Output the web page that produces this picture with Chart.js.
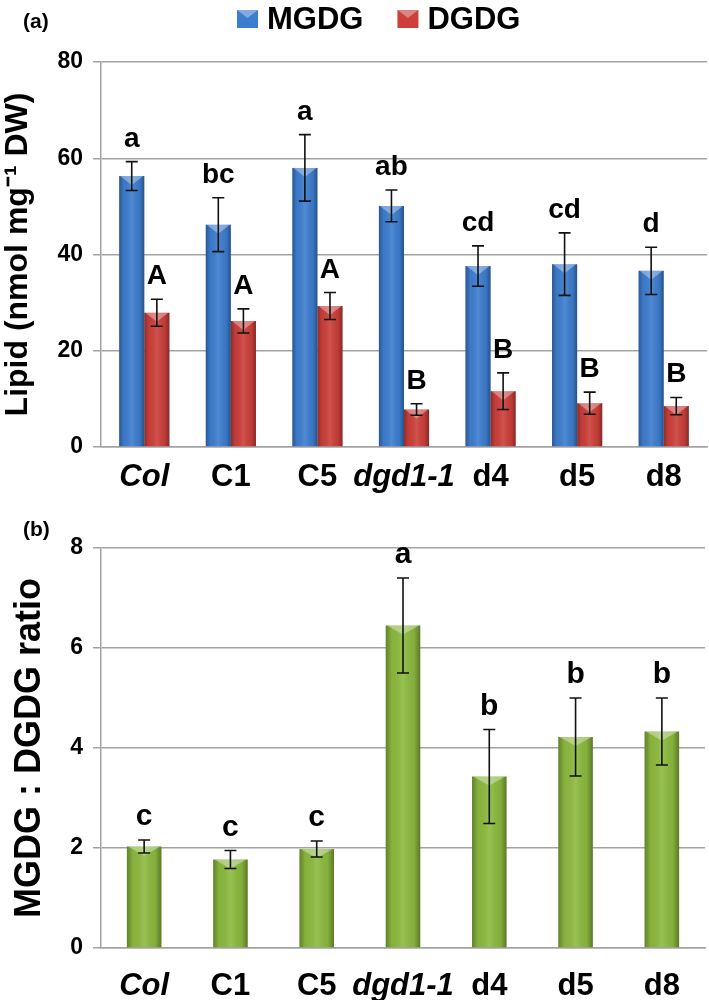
<!DOCTYPE html>
<html>
<head>
<meta charset="utf-8">
<script src="https://cdn.jsdelivr.net/npm/chart.js@4.4.0/dist/chart.umd.min.js"></script>
<style>
body { margin: 0; background: #fff; }
canvas { display: block; }
</style>
</head>
<body>
<canvas id="lipidChart" width="709" height="500"></canvas>
<canvas id="ratioChart" width="709" height="500"></canvas>
<script>
// lines on the x axis (italic ones are wild type / mutant)
const lines = ['Col', 'C1', 'C5', 'dgd1-1', 'd4', 'd5', 'd8'];
const italicLines = ['Col', 'dgd1-1'];

// (a) lipid content, nmol per mg DW
const mgdg = [56.3, 46.2, 58.0, 50.1, 37.6, 38.0, 36.6];
const mgdgErr = [3.0, 5.6, 6.9, 3.3, 4.2, 6.5, 4.9];
const mgdgLetters = ['a', 'bc', 'a', 'ab', 'cd', 'cd', 'd'];

const dgdg = [27.9, 26.2, 29.3, 7.8, 11.6, 9.1, 8.5];
const dgdgErr = [2.8, 2.5, 2.8, 1.2, 3.8, 2.3, 1.8];
const dgdgLetters = ['A', 'A', 'A', 'B', 'B', 'B', 'B'];

// (b) MGDG : DGDG ratio
const ratio = [2.03, 1.77, 1.98, 6.45, 3.43, 4.22, 4.33];
const ratioErr = [0.13, 0.18, 0.16, 0.95, 0.94, 0.78, 0.67];
const ratioLetters = ['c', 'c', 'c', 'a', 'b', 'b', 'b'];

const lipidTicks = [0, 20, 40, 60, 80];
const ratioTicks = [0, 2, 4, 6, 8];

const FONT = '"Liberation Sans", Arial, Helvetica, sans-serif';
Chart.defaults.font.family = FONT;
Chart.defaults.color = '#000';
const GRID = '#a3a3a3';

// shading to get the bevelled look of the bars
const barShade = {
    id: 'barShade',
    afterDatasetsDraw(chart) {
        const ctx = chart.ctx;
        ctx.save();
        chart.data.datasets.forEach((ds, i) => {
            chart.getDatasetMeta(i).data.forEach(bar => {
                const p = bar.getProps(['x', 'y', 'base', 'width'], true);
                const l = p.x - p.width / 2, r = p.x + p.width / 2;
                const g = ctx.createLinearGradient(l, 0, r, 0);
                g.addColorStop(0, 'rgba(0,0,0,0.30)');
                g.addColorStop(0.18, 'rgba(0,0,0,0.04)');
                g.addColorStop(0.5, 'rgba(255,255,255,0.10)');
                g.addColorStop(0.82, 'rgba(0,0,0,0.06)');
                g.addColorStop(1, 'rgba(0,0,0,0.35)');
                ctx.fillStyle = g;
                ctx.fillRect(l, p.y, p.width, p.base - p.y);
                const h = Math.min(9, (p.base - p.y) / 2);
                ctx.fillStyle = 'rgba(255,255,255,0.35)';
                ctx.beginPath();
                ctx.moveTo(l + 1, p.y);
                ctx.lineTo(r - 1, p.y);
                ctx.lineTo(p.x, p.y + h);
                ctx.closePath();
                ctx.fill();
            });
        });
        ctx.restore();
    }
};

// error bars + significance letters
const errorBars = {
    id: 'errorBars',
    afterDatasetsDraw(chart, args, opts) {
        const ctx = chart.ctx, ys = chart.scales.y;
        ctx.save();
        chart.data.datasets.forEach((ds, i) => {
            chart.getDatasetMeta(i).data.forEach((bar, j) => {
                const v = ds.data[j], e = ds.errors[j];
                const top = ys.getPixelForValue(v + e), bot = ys.getPixelForValue(v - e);
                ctx.strokeStyle = '#111';
                ctx.lineWidth = 1.6;
                ctx.beginPath();
                ctx.moveTo(bar.x, top); ctx.lineTo(bar.x, bot);
                ctx.moveTo(bar.x - 6, top); ctx.lineTo(bar.x + 6, top);
                ctx.moveTo(bar.x - 6, bot); ctx.lineTo(bar.x + 6, bot);
                ctx.stroke();
                ctx.fillStyle = '#000';
                ctx.font = 'bold ' + opts.size + 'px ' + FONT;
                ctx.textAlign = 'center';
                ctx.textBaseline = 'alphabetic';
                ctx.fillText(ds.letters[j], bar.x, top - opts.gap);
            });
        });
        ctx.restore();
    }
};

// panel tag and the legend on top
const panelDecor = {
    id: 'panelDecor',
    afterDraw(chart, args, opts) {
        const ctx = chart.ctx;
        ctx.save();
        ctx.fillStyle = '#000';
        ctx.font = 'bold 21px ' + FONT;
        ctx.textAlign = 'left';
        ctx.textBaseline = 'middle';
        ctx.fillText(opts.tag, 23, opts.tagY);
        if (opts.legend) {
            let x = opts.legendX;
            const y = 19;
            ctx.font = 'bold 31px ' + FONT;
            chart.data.datasets.forEach(ds => {
                ctx.fillStyle = ds.backgroundColor;
                ctx.fillRect(x, y - 9, 21, 18);
                ctx.fillStyle = 'rgba(255,255,255,0.35)';
                ctx.beginPath();
                ctx.moveTo(x, y - 9); ctx.lineTo(x + 21, y - 9); ctx.lineTo(x + 10.5, y - 1);
                ctx.closePath(); ctx.fill();
                ctx.fillStyle = '#000';
                ctx.fillText(ds.label, x + 30, y + 1);
                x += 30 + ctx.measureText(ds.label).width + 34;
            });
        }
        ctx.restore();
    }
};

function xAxis(pad, h) {
    return {
        grid: { display: false, drawTicks: false },
        border: { color: GRID, width: 1.5 },
        ticks: {
            color: '#000',
            padding: pad,
            maxRotation: 0,
            minRotation: 0,
            autoSkip: false,
            font: c => ({
                size: 31, weight: 'bold', family: FONT,
                style: italicLines.includes(lines[c.index]) ? 'italic' : 'normal'
            })
        },
        afterFit(axis) { axis.height = h; }
    };
}

function yAxis(ticks, title, titleSize, titlePad) {
    return {
        min: ticks[0],
        max: ticks[ticks.length - 1],
        afterBuildTicks(axis) { axis.ticks = ticks.map(v => ({ value: v })); },
        ticks: { color: '#000', padding: 10, font: { size: 23, weight: 'bold' } },
        grid: { color: GRID, lineWidth: 1.5, tickLength: 8 },
        border: { color: GRID, width: 1.5 },
        title: {
            display: true, text: title, color: '#000',
            font: { size: titleSize, weight: 'bold', lineHeight: 1 },
            padding: { top: titlePad, bottom: 0 }
        },
        afterFit(axis) { axis.width = 101; }
    };
}

new Chart(document.getElementById('lipidChart'), {
    type: 'bar',
    data: {
        labels: lines,
        datasets: [
            { label: 'MGDG', data: mgdg, errors: mgdgErr, letters: mgdgLetters,
              backgroundColor: '#3d7dcf', categoryPercentage: 0.58, barPercentage: 1.0 },
            { label: 'DGDG', data: dgdg, errors: dgdgErr, letters: dgdgLetters,
              backgroundColor: '#cc3f3a', categoryPercentage: 0.58, barPercentage: 1.0 }
        ]
    },
    options: {
        responsive: false,
        animation: false,
        layout: { padding: { top: 62, right: 2, left: 0, bottom: 0 } },
        scales: {
            x: xAxis(12, 53),
            y: yAxis(lipidTicks, 'Lipid (nmol mg\u207B\u00B9 DW)', 32, 2)
        },
        plugins: {
            legend: { display: false },
            tooltip: { enabled: false },
            errorBars: { size: 28, gap: 15 },
            panelDecor: { tag: '(a)', tagY: 22, legend: true, legendX: 237 }
        }
    },
    plugins: [barShade, errorBars, panelDecor]
});

new Chart(document.getElementById('ratioChart'), {
    type: 'bar',
    data: {
        labels: lines,
        datasets: [
            { label: 'MGDG : DGDG', data: ratio, errors: ratioErr, letters: ratioLetters,
              backgroundColor: '#8cba3e', categoryPercentage: 0.4, barPercentage: 1.0 }
        ]
    },
    options: {
        responsive: false,
        animation: false,
        layout: { padding: { top: 48, right: 4, left: 0, bottom: 0 } },
        scales: {
            x: xAxis(20, 52),
            y: yAxis(ratioTicks, 'MGDG : DGDG ratio', 36, 12)
        },
        plugins: {
            legend: { display: false },
            tooltip: { enabled: false },
            errorBars: { size: 30, gap: 15 },
            panelDecor: { tag: '(b)', tagY: 30, legend: false }
        }
    },
    plugins: [barShade, errorBars, panelDecor]
});
</script>
</body>
</html>
